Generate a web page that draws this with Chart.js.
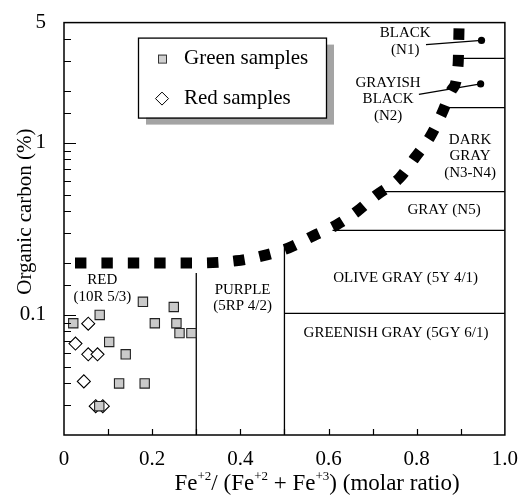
<!DOCTYPE html>
<html>
<head>
<meta charset="utf-8">
<script src="https://cdn.jsdelivr.net/npm/chart.js@4/dist/chart.umd.min.js"></script>
<style>
  html, body { margin: 0; padding: 0; background: #fff; }
</style>
</head>
<body>
<canvas id="colorChart" width="522" height="499"></canvas>
<script>
// -------------------------------------------------------------------
// Organic carbon vs Fe2+/(Fe2+ + Fe3+) : sediment colour fields
// -------------------------------------------------------------------

// Colour boundary curve (thick dashed line)
const curveX = [0.025, 0.1, 0.2, 0.3, 0.39, 0.45, 0.51, 0.566, 0.618, 0.665, 0.708, 0.76, 0.796, 0.83, 0.857, 0.88, 0.894, 0.896];
const curveY = [0.2, 0.2, 0.2, 0.2, 0.206, 0.22, 0.245, 0.288, 0.333, 0.40, 0.495, 0.62, 0.82, 1.08, 1.48, 2.04, 2.87, 4.65];

// Green samples (grey squares)
const greenX = [0.179, 0.249, 0.081, 0.021, 0.206, 0.255, 0.262, 0.289, 0.1025, 0.140, 0.125, 0.183, 0.080];
const greenY = [0.119, 0.111, 0.0998, 0.0893, 0.0893, 0.0893, 0.0782, 0.0782, 0.0695, 0.0589, 0.0399, 0.0399, 0.0294];

// Red samples (open diamonds)
const redX = [0.055, 0.026, 0.055, 0.076, 0.045, 0.072, 0.088];
const redY = [0.0888, 0.068, 0.0589, 0.0589, 0.041, 0.0294, 0.0294];

// Horizontal field boundaries on the right (level, starting x)
const fieldLevels = [3.1, 1.6, 0.52, 0.31, 0.102];
const fieldStartX = [0.903, 0.873, 0.722, 0.609, 0.5];

// Vertical field boundaries (x, top value)
const dividerX = [0.3, 0.5];
const dividerTop = [0.175, 0.255];

// BLACK / GRAYISH BLACK leaders: label end -> dot
const leaderFromX = [0.821, 0.805];
const leaderFromY = [3.72, 1.91];
const dotX = [0.947, 0.945];
const dotY = [3.94, 2.2];

// Axis tick labels
const xTickLabels = ["0", "0.2", "0.4", "0.6", "0.8", "1.0"];
const yTickLabels = [5, 1, 0.1];

// Field names, anchored in data units
const fieldNames = [
  { lines: ["RED", "(10R 5/3)"], x: 0.087, y: 0.159 },
  { lines: ["PURPLE", "(5RP 4/2)"], x: 0.405, y: 0.140 },
  { lines: ["OLIVE GRAY (5Y 4/1)"], x: 0.775, y: 0.163 },
  { lines: ["GREENISH GRAY (5GY 6/1)"], x: 0.753, y: 0.078 },
  { lines: ["GRAY (N5)"], x: 0.862, y: 0.404 },
  { lines: ["DARK", "GRAY", "(N3-N4)"], x: 0.921, y: 1.04 },
  { lines: ["GRAYISH", "BLACK", "(N2)"], x: 0.735, y: 2.23 },
  { lines: ["BLACK", "(N1)"], x: 0.774, y: 4.32 }
];

const SERIF = '"Liberation Serif", "Times New Roman", serif';

function zipPoints(xs, ys) {
  return xs.map((x, i) => ({ x, y: ys[i] }));
}

function isLabelled(v) {
  return yTickLabels.some(l => Math.abs(v - l) < 1e-9);
}

// plain thin black segment dataset
function segment(points) {
  return {
    data: points,
    showLine: true,
    borderColor: "#000",
    borderWidth: 1.3,
    pointRadius: 0,
    order: 5
  };
}

const datasets = [];

datasets.push({
  label: "boundary",
  data: zipPoints(curveX, curveY),
  showLine: true,
  borderColor: "#000",
  borderWidth: 11,
  borderDash: [11.4, 15],
  borderCapStyle: "butt",
  cubicInterpolationMode: "monotone",
  pointRadius: 0,
  order: 4
});

fieldLevels.forEach((lvl, i) => {
  datasets.push(segment([{ x: fieldStartX[i], y: lvl }, { x: 1, y: lvl }]));
});
dividerX.forEach((dx, i) => {
  datasets.push(segment([{ x: dx, y: 0.02 }, { x: dx, y: dividerTop[i] }]));
});
leaderFromX.forEach((lx, i) => {
  datasets.push(segment([{ x: lx, y: leaderFromY[i] }, { x: dotX[i], y: dotY[i] }]));
});

datasets.push({
  label: "dots",
  data: zipPoints(dotX, dotY),
  pointStyle: "circle",
  pointRadius: 3.6,
  backgroundColor: "#000",
  borderColor: "#000",
  borderWidth: 0,
  order: 3
});

datasets.push({
  label: "Red samples",
  data: zipPoints(redX, redY),
  pointStyle: "rectRot",
  pointRadius: 6.5,
  backgroundColor: "#fff",
  borderColor: "#000",
  borderWidth: 1.1,
  order: 2
});

datasets.push({
  label: "Green samples",
  data: zipPoints(greenX, greenY),
  pointStyle: "rect",
  pointRadius: 6.6,
  backgroundColor: "#cacaca",
  borderColor: "#222",
  borderWidth: 1.1,
  order: 1
});

// frame, inward ticks, titles, legend box and field names
const decorPlugin = {
  id: "decor",
  afterDraw(chart) {
    const { ctx, chartArea: a, scales } = chart;
    const xs = scales.x;
    const ys = scales.y;
    ctx.save();

    // frame
    ctx.strokeStyle = "#000";
    ctx.lineWidth = 1.5;
    ctx.strokeRect(a.left, a.top, a.right - a.left, a.bottom - a.top);

    // inward ticks
    ctx.lineWidth = 1.2;
    ctx.beginPath();
    ys.ticks.forEach(t => {
      const py = Math.round(ys.getPixelForValue(t.value)) + 0.5;
      if (py <= a.top + 2 || py >= a.bottom - 2) return;
      const len = isLabelled(t.value) ? 12 : 7;
      ctx.moveTo(a.left, py);
      ctx.lineTo(a.left + len, py);
    });
    for (let i = 1; i < 10; i++) {
      const px = Math.round(xs.getPixelForValue(i / 10)) + 0.5;
      ctx.moveTo(px, a.bottom);
      ctx.lineTo(px, a.bottom - 6);
    }
    ctx.stroke();

    // y title
    ctx.fillStyle = "#000";
    ctx.font = "21px " + SERIF;
    ctx.textAlign = "center";
    ctx.textBaseline = "middle";
    ctx.save();
    ctx.translate(a.left - 39, a.top + 189);
    ctx.rotate(-Math.PI / 2);
    ctx.fillText("Organic carbon (%)", 0, 0);
    ctx.restore();

    // x title with superscripts
    const parts = [
      ["Fe", false], ["+2", true], ["/ (Fe", false], ["+2", true],
      [" + Fe", false], ["+3", true], [") (molar ratio)", false]
    ];
    const big = "23px " + SERIF;
    const small = "13px " + SERIF;
    let total = 0;
    parts.forEach(([t, sup]) => {
      ctx.font = sup ? small : big;
      total += ctx.measureText(t).width;
    });
    let cx = a.left + 0.574 * (a.right - a.left) - total / 2;
    const base = a.bottom + 55;
    ctx.textAlign = "left";
    ctx.textBaseline = "alphabetic";
    parts.forEach(([t, sup]) => {
      ctx.font = sup ? small : big;
      ctx.fillText(t, cx, sup ? base - 10 : base);
      cx += ctx.measureText(t).width;
    });

    // field names
    ctx.font = "15px " + SERIF;
    ctx.textAlign = "center";
    ctx.textBaseline = "middle";
    fieldNames.forEach(f => {
      const px = xs.getPixelForValue(f.x);
      const py = ys.getPixelForValue(f.y);
      f.lines.forEach((line, i) => ctx.fillText(line, px, py + i * 16.5));
    });

    // legend with drop shadow
    const lx = a.left + 74;
    const ly = a.top + 15;
    const lw = 188;
    const lh = 80;
    ctx.fillStyle = "#a4a4a4";
    ctx.fillRect(lx + 8, ly + 7, lw, lh);
    ctx.fillStyle = "#fff";
    ctx.fillRect(lx, ly, lw, lh);
    ctx.strokeStyle = "#000";
    ctx.lineWidth = 1.3;
    ctx.strokeRect(lx + 0.5, ly + 0.5, lw, lh);

    // legend markers
    const mx = lx + 24;
    const my1 = ly + 21;
    const my2 = ly + 61;
    ctx.lineWidth = 1;
    ctx.fillStyle = "#d0d0d0";
    ctx.strokeStyle = "#333";
    ctx.fillRect(mx - 4, my1 - 4, 8, 8);
    ctx.strokeRect(mx - 4 + 0.5, my1 - 4 + 0.5, 8, 8);
    ctx.fillStyle = "#fff";
    ctx.strokeStyle = "#000";
    ctx.beginPath();
    ctx.moveTo(mx, my2 - 6.5);
    ctx.lineTo(mx + 6.5, my2);
    ctx.lineTo(mx, my2 + 6.5);
    ctx.lineTo(mx - 6.5, my2);
    ctx.closePath();
    ctx.fill();
    ctx.stroke();

    ctx.fillStyle = "#000";
    ctx.font = "21px " + SERIF;
    ctx.textAlign = "left";
    ctx.textBaseline = "middle";
    ctx.fillText("Green samples", lx + 46, my1);
    ctx.fillText("Red samples", lx + 46, my2);

    ctx.restore();
  }
};

new Chart(document.getElementById("colorChart"), {
  type: "scatter",
  data: { datasets },
  options: {
    responsive: false,
    animation: false,
    devicePixelRatio: 1,
    layout: { padding: { left: 0, top: 17, right: 16, bottom: 0 } },
    plugins: {
      legend: { display: false },
      tooltip: { enabled: false }
    },
    scales: {
      x: {
        type: "linear",
        min: 0,
        max: 1,
        grid: { display: false },
        border: { display: false },
        ticks: {
          stepSize: 0.2,
          autoSkip: false,
          maxRotation: 0,
          padding: 4,
          color: "#000",
          font: { family: SERIF, size: 21 },
          callback: (v) => xTickLabels[Math.round(v * 5)]
        },
        afterFit: (scale) => { scale.height = 64; }
      },
      y: {
        type: "logarithmic",
        min: 0.02,
        max: 5,
        grid: { display: false },
        border: { display: false },
        ticks: {
          autoSkip: false,
          padding: 10,
          color: "#000",
          font: { family: SERIF, size: 21 },
          callback: (v) => (isLabelled(v) ? String(v) : "")
        },
        afterFit: (scale) => { scale.width = 64; }
      }
    }
  },
  plugins: [decorPlugin]
});
</script>
</body>
</html>
